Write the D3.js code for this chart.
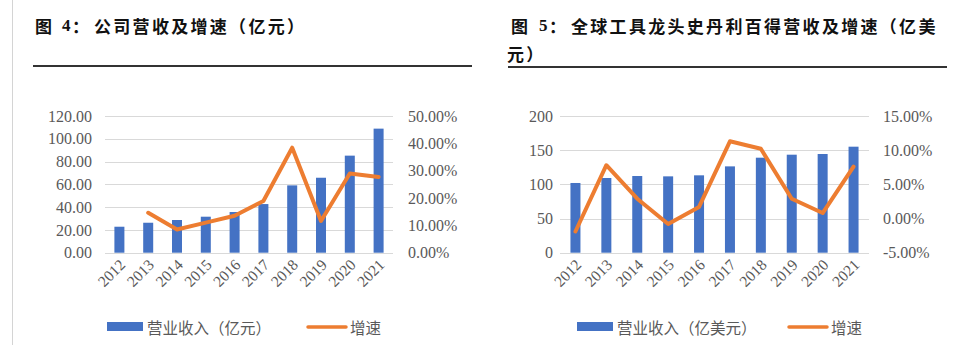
<!DOCTYPE html>
<html><head><meta charset="utf-8">
<script src="https://cdn.jsdelivr.net/npm/d3@7"></script>
<style>body{margin:0;background:#fff;}svg{display:block;}</style>
</head><body>
<svg id="c" width="963" height="351"></svg>
<script>
const years = ["2012","2013","2014","2015","2016","2017","2018","2019","2020","2021"];
const revA = [22.8,26.3,28.7,31.6,35.7,42.7,59.1,65.8,85.2,108.9];
const growA = [null,14.6,8.5,11.0,13.5,18.9,38.4,11.6,29.0,27.7];
const revB = [102,109.3,112.2,111.7,113.2,126.3,139,143.4,144.4,155.1];
const growB = [-1.9,7.8,2.9,-0.8,1.7,11.3,10.2,2.9,0.8,7.6];
const ticksLeftA = [0,20,40,60,80,100,120];
const ticksRightA = [0,10,20,30,40,50];
const ticksLeftB = [0,50,100,150,200];
const ticksRightB = [-5,0,5,10,15];
const legendA = ["营业收入（亿元）","增速"];
const legendB = ["营业收入（亿美元）","增速"];

const svg = d3.select("#c");
const BLUE = "#4472C4", ORANGE = "#ED7D31", GRID = "#d9d9d9", TXT = "#595959";
const serif = "'Liberation Serif','Times New Roman',serif";
const cjk = "'Noto Sans CJK SC',sans-serif";

// left vertical rule
svg.append("line").attr("x1",12.5).attr("x2",12.5).attr("y1",0).attr("y2",345)
  .attr("stroke","#d4d4d4").attr("stroke-width",1);

function title(y, parts){
  const t = svg.append("text").attr("y",y).attr("dominant-baseline","central")
    .attr("font-family",cjk).attr("font-weight",700).attr("font-size",17)
    .attr("letter-spacing",2.3).attr("fill","#111");
  parts.forEach(p=>{ t.append("tspan").attr("x",p.x).attr("font-family",p.serif?serif:cjk).text(p.t); });
}
title(25,[{t:"图",x:35},{t:"4",x:62,serif:true},{t:"：",x:72},{t:"公司营收及增速（亿元）",x:94}]);
svg.append("line").attr("x1",33).attr("x2",472).attr("y1",66).attr("y2",66).attr("stroke","#333").attr("stroke-width",2);
title(25,[{t:"图",x:511},{t:"5",x:539,serif:true},{t:"：",x:549},{t:"全球工具龙头史丹利百得营收及增速（亿美",x:571}]);
title(53,[{t:"元）",x:507}]);
svg.append("line").attr("x1",508).attr("x2",947).attr("y1",67).attr("y2",67).attr("stroke","#333").attr("stroke-width",2);

function chart(cfg){
  const g = svg.append("g");
  const x = d3.scaleBand().domain(years).range([cfg.x0,cfg.x1]);
  const yL = d3.scaleLinear().domain(cfg.ldom).range([252.7,116]);
  const yR = d3.scaleLinear().domain(cfg.rdom).range([252.7,116]);
  // grid
  g.selectAll(".grid").data(cfg.lt).join("line")
    .attr("x1",cfg.x0).attr("x2",cfg.x1).attr("y1",d=>Math.round(yL(d))+0.5).attr("y2",d=>Math.round(yL(d))+0.5)
    .attr("stroke",GRID).attr("stroke-width",1);
  // left axis labels
  const axL = d3.axisLeft(yL).tickValues(cfg.lt).tickFormat(cfg.lf).tickSize(0).tickPadding(0);
  const gl = g.append("g").attr("transform",`translate(${cfg.lx},0)`).call(axL);
  gl.select(".domain").remove();
  gl.selectAll("text").attr("font-family",serif).attr("font-size",16).attr("fill",TXT);
  const axR = d3.axisRight(yR).tickValues(cfg.rt).tickFormat(d=>d.toFixed(2)+"%").tickSize(0).tickPadding(0);
  const gr = g.append("g").attr("transform",`translate(${cfg.rx},0)`).call(axR);
  gr.select(".domain").remove();
  gr.selectAll("text").attr("font-family",serif).attr("font-size",16).attr("fill",TXT);
  // bars
  const bw = 10;
  g.selectAll(".bar").data(cfg.rev).join("rect")
    .attr("x",(d,i)=>x(years[i])+x.bandwidth()/2-bw/2).attr("width",bw)
    .attr("y",d=>yL(d)).attr("height",d=>yL(0)-yL(d)).attr("fill",BLUE);
  // line
  const pts = cfg.grow.map((d,i)=>[x(years[i])+x.bandwidth()/2, d]).filter(p=>p[1]!==null);
  g.append("path").datum(pts)
    .attr("d",d3.line().x(p=>p[0]).y(p=>yR(p[1])))
    .attr("fill","none").attr("stroke",ORANGE).attr("stroke-width",4).attr("stroke-linejoin","round").attr("stroke-linecap","round");
  // x labels
  g.selectAll(".xl").data(years).join("text")
    .attr("transform",d=>`translate(${x(d)+x.bandwidth()/2+3},${262}) rotate(-45)`)
    .attr("text-anchor","end").attr("dominant-baseline","central")
    .attr("font-family",serif).attr("font-size",15.5).attr("fill",TXT).text(d=>d);
  // legend
  const L = g.append("g");
  L.append("rect").attr("x",cfg.lg[0]).attr("y",322).attr("width",36).attr("height",9).attr("fill",BLUE);
  L.append("text").attr("x",cfg.lg[0]+40).attr("y",327).attr("dominant-baseline","central")
    .attr("font-family",cjk).attr("font-size",15.5).attr("fill",TXT).text(cfg.leg[0]);
  L.append("line").attr("x1",cfg.lg[1]).attr("x2",cfg.lg[1]+38).attr("y1",327).attr("y2",327)
    .attr("stroke",ORANGE).attr("stroke-width",3.5).attr("stroke-linecap","round");
  L.append("text").attr("x",cfg.lg[1]+42).attr("y",327).attr("dominant-baseline","central")
    .attr("font-family",cjk).attr("font-size",15.5).attr("fill",TXT).text(cfg.leg[1]);
}

chart({x0:105,x1:393,ldom:[0,120],rdom:[0,50],lt:ticksLeftA,rt:ticksRightA,lf:d=>d.toFixed(2),
  lx:92,rx:408,rev:revA,grow:growA,lg:[107,308],leg:legendA});
chart({x0:560,x1:869,ldom:[0,200],rdom:[-5,15],lt:ticksLeftB,rt:ticksRightB,lf:d=>String(d),
  lx:553,rx:883,rev:revB,grow:growB,lg:[577,789],leg:legendB});
</script>
</body></html>
